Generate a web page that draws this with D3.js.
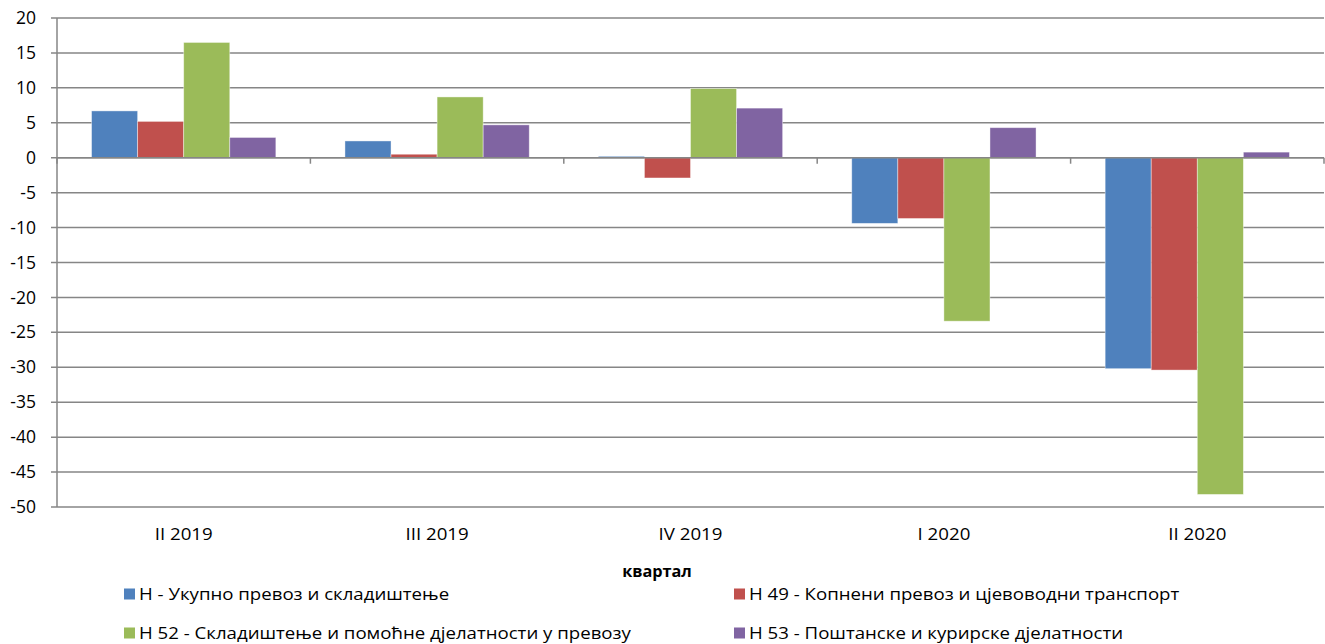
<!DOCTYPE html>
<html>
<head>
<meta charset="utf-8">
<script src="https://cdn.jsdelivr.net/npm/d3@7"></script>
<style>
  body { margin: 0; background: #fff; }
  text { font-family: "Open Sans", "Noto Sans", sans-serif; fill: #000; }
</style>
</head>
<body>
<div id="chart"></div>
<script>

var quarters = ["II 2019", "III 2019", "IV 2019", "I 2020", "II 2020"];
var seriesNames = [
  "Н - Укупно превоз и складиштење",
  "Н 49 - Копнени превоз и цјевоводни транспорт",
  "Н 52 - Складиштење и помоћне дјелатности у превозу",
  "Н 53 - Поштанске и курирске дјелатности"
];
var seriesColors = ["#4f81bd", "#c0504d", "#9bbb59", "#8064a2"];
var totalH = [6.7, 2.4, 0.2, -9.4, -30.2];
var h49 = [5.2, 0.5, -2.9, -8.7, -30.4];
var h52 = [16.5, 8.7, 9.9, -23.4, -48.2];
var h53 = [2.9, 4.7, 7.1, 4.3, 0.8];
var yTicks = [20, 15, 10, 5, 0, -5, -10, -15, -20, -25, -30, -35, -40, -45, -50];
var axisTitle = "квартал";

var series = [totalH, h49, h52, h53];

var width = 1325, height = 644;
var plotLeft = 57, plotRight = 1324, plotTop = 18, plotBottom = 507;

var svg = d3.select("#chart")
  .append("svg")
  .attr("width", width)
  .attr("height", height);

var x = d3.scaleBand()
  .domain(quarters)
  .range([plotLeft, plotRight])
  .paddingInner(0)
  .paddingOuter(0);

// 4 bars with a 150% gap, as in the original spreadsheet chart
var barW = x.bandwidth() / 5.5;
var xs = d3.scaleBand()
  .domain(d3.range(series.length))
  .range([barW * 0.75, barW * 4.75]);

var y = d3.scaleLinear()
  .domain([-50, 20])
  .range([plotBottom, plotTop]);

// gridlines
svg.append("g")
  .selectAll("line")
  .data(yTicks)
  .enter().append("line")
  .attr("x1", plotLeft - 6)
  .attr("x2", plotRight)
  .attr("y1", function(d) { return y(d); })
  .attr("y2", function(d) { return y(d); })
  .style("stroke", "#868686")
  .style("stroke-width", 1.5);

// y axis labels
svg.append("g")
  .selectAll("text")
  .data(yTicks)
  .enter().append("text")
  .attr("x", 36)
  .attr("y", function(d) { return y(d); })
  .attr("dy", "0.35em")
  .attr("text-anchor", "end")
  .style("font-size", "17.5px")
  .text(function(d) { return d; });

// bars
var groups = svg.append("g")
  .selectAll("g")
  .data(series)
  .enter().append("g")
  .style("fill", function(d, i) { return seriesColors[i]; });

groups.each(function(vals, si) {
  d3.select(this).selectAll("rect")
    .data(vals)
    .enter().append("rect")
    .attr("x", function(d, i) { return x(quarters[i]) + xs(si); })
    .attr("width", xs.bandwidth())
    .attr("y", function(d) { return y(Math.max(0, d)); })
    .attr("height", function(d) { return Math.abs(y(d) - y(0)); })
    .style("stroke", "#fff")
    .style("stroke-opacity", 0.5)
    .style("stroke-width", 0.8);
});

// zero axis with category ticks
svg.append("line")
  .attr("x1", plotLeft).attr("x2", plotRight)
  .attr("y1", y(0)).attr("y2", y(0))
  .style("stroke", "#868686")
  .style("stroke-width", 1.5);

var bounds = quarters.map(function(q) { return x(q); }).concat([plotRight]);
svg.append("g")
  .selectAll("line")
  .data(bounds)
  .enter().append("line")
  .attr("x1", function(d) { return d; })
  .attr("x2", function(d) { return d; })
  .attr("y1", y(0))
  .attr("y2", y(0) + 6)
  .style("stroke", "#868686")
  .style("stroke-width", 1.5);

// y axis line
svg.append("line")
  .attr("x1", plotLeft).attr("x2", plotLeft)
  .attr("y1", plotTop).attr("y2", plotBottom)
  .style("stroke", "#868686")
  .style("stroke-width", 1.5);

// category labels
svg.append("g")
  .selectAll("text")
  .data(quarters)
  .enter().append("text")
  .attr("transform", function(d) { return "translate(" + (x(d) + x.bandwidth() / 2) + ",534) scale(1.1,1)"; })
  .attr("dy", "0.35em")
  .attr("text-anchor", "middle")
  .style("font-size", "17px")
  .text(function(d) { return d; });

svg.append("text")
  .attr("transform", "translate(657,572) scale(1.05,1)")
  .attr("dy", "0.35em")
  .attr("text-anchor", "middle")
  .style("font-size", "15.5px")
  .style("font-weight", "bold")
  .text(axisTitle);

// legend
var legendPos = [[124, 594], [734, 594], [124, 633], [734, 633]];
var legend = svg.append("g")
  .selectAll("g")
  .data(seriesNames)
  .enter().append("g")
  .attr("transform", function(d, i) { return "translate(" + legendPos[i][0] + "," + legendPos[i][1] + ")"; });

legend.append("rect")
  .attr("x", 0)
  .attr("y", -5.5)
  .attr("width", 11)
  .attr("height", 11)
  .style("fill", function(d, i) { return seriesColors[i]; });

legend.append("text")
  .attr("transform", "translate(15,0) scale(1.13,1)")
  .attr("dy", "0.35em")
  .style("font-size", "16.5px")
  .text(function(d) { return d; });

</script>
</body>
</html>
